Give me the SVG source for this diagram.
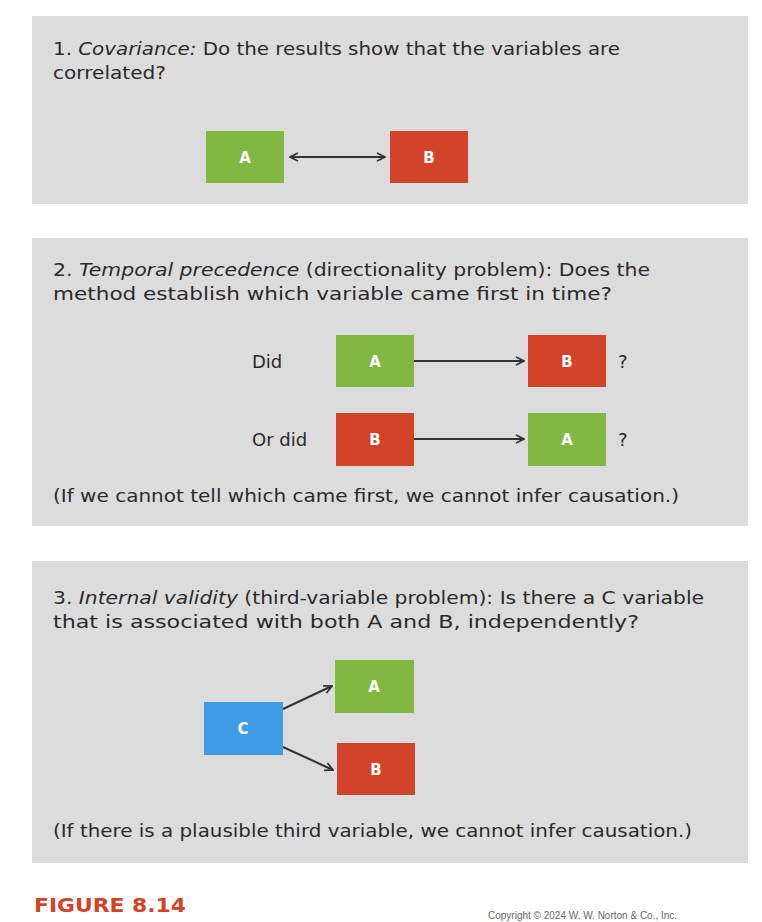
<svg xmlns="http://www.w3.org/2000/svg" width="762" height="922" viewBox="0 0 762 922">
<style>
.p{fill:#dcdcdd}
.t{font-family:"DejaVu Sans","Liberation Sans",sans-serif;font-size:18px;fill:#2a2a2a}
.l{font-family:"DejaVu Sans","Liberation Sans",sans-serif;font-size:15px;font-weight:bold;fill:#fff;text-anchor:middle}
.g{fill:#80b842}.r{fill:#d2432a}.b{fill:#3f9be6}
.c{stroke:#333;stroke-width:2;fill:none}
</style>
<defs><marker id="ah" markerWidth="10" markerHeight="10" refX="9" refY="5" orient="auto-start-reverse" markerUnits="userSpaceOnUse"><path d="M1,1 L9,5 L1,9" fill="none" stroke="#333" stroke-width="1.8"/></marker></defs>
<rect width="762" height="922" fill="#fff"/>
<rect class="p" x="32" y="16" width="716" height="188"/>
<rect class="p" x="32" y="238" width="716" height="288"/>
<rect class="p" x="32" y="561" width="716" height="302"/>
<text class="t" x="53" y="55" textLength="567" lengthAdjust="spacingAndGlyphs">1. <tspan font-style="italic">Covariance:</tspan> Do the results show that the variables are</text>
<text class="t" x="53" y="79" textLength="113" lengthAdjust="spacingAndGlyphs">correlated?</text>
<text class="t" x="53" y="276" textLength="597" lengthAdjust="spacingAndGlyphs">2. <tspan font-style="italic">Temporal precedence</tspan> (directionality problem): Does the</text>
<text class="t" x="53" y="300" textLength="559" lengthAdjust="spacingAndGlyphs">method establish which variable came first in time?</text>
<text class="t" x="252" y="368">Did</text>
<text class="t" x="252" y="446">Or did</text>
<text class="t" x="618" y="368">?</text>
<text class="t" x="618" y="446">?</text>
<text class="t" x="53" y="502" textLength="626" lengthAdjust="spacingAndGlyphs">(If we cannot tell which came first, we cannot infer causation.)</text>
<text class="t" x="53" y="604" textLength="651" lengthAdjust="spacingAndGlyphs">3. <tspan font-style="italic">Internal validity</tspan> (third-variable problem): Is there a C variable</text>
<text class="t" x="53" y="628" textLength="586" lengthAdjust="spacingAndGlyphs">that is associated with both A and B, independently?</text>
<text class="t" x="53" y="837" textLength="639" lengthAdjust="spacingAndGlyphs">(If there is a plausible third variable, we cannot infer causation.)</text>
<text x="34" y="912" font-family="DejaVu Sans,sans-serif" font-size="20" font-weight="bold" fill="#d2432a" textLength="152" lengthAdjust="spacingAndGlyphs">FIGURE 8.14</text>
<text x="488" y="919" font-family="Liberation Sans,Arial,sans-serif" font-size="10" fill="#666">Copyright © 2024 W. W. Norton &amp; Co., Inc.</text>
<g id="connectors">
<line class="c" x1="290" y1="157" x2="385" y2="157" marker-start="url(#ah)" marker-end="url(#ah)"/>
<line class="c" x1="414" y1="361" x2="524" y2="361" marker-end="url(#ah)"/>
<line class="c" x1="414" y1="439" x2="524" y2="439" marker-end="url(#ah)"/>
<line class="c" x1="283" y1="709" x2="332" y2="686" marker-end="url(#ah)"/>
<line class="c" x1="283" y1="747" x2="333" y2="770" marker-end="url(#ah)"/>
</g>
<g id="s1A"><rect class="g" x="206" y="131" width="78" height="52"/><text class="l" x="245" y="163">A</text></g>
<g id="s1B"><rect class="r" x="390" y="131" width="78" height="52"/><text class="l" x="429" y="163">B</text></g>
<g id="s2A1"><rect class="g" x="336" y="335" width="78" height="52"/><text class="l" x="375" y="367">A</text></g>
<g id="s2B1"><rect class="r" x="528" y="335" width="78" height="52"/><text class="l" x="567" y="367">B</text></g>
<g id="s2B2"><rect class="r" x="336" y="413" width="78" height="53"/><text class="l" x="375" y="445">B</text></g>
<g id="s2A2"><rect class="g" x="528" y="413" width="78" height="53"/><text class="l" x="567" y="445">A</text></g>
<g id="s3C"><rect class="b" x="204" y="702" width="79" height="53"/><text class="l" x="243" y="734">C</text></g>
<g id="s3A"><rect class="g" x="335" y="660" width="79" height="53"/><text class="l" x="374" y="692">A</text></g>
<g id="s3B"><rect class="r" x="337" y="743" width="78" height="52"/><text class="l" x="376" y="775">B</text></g>
</svg>
